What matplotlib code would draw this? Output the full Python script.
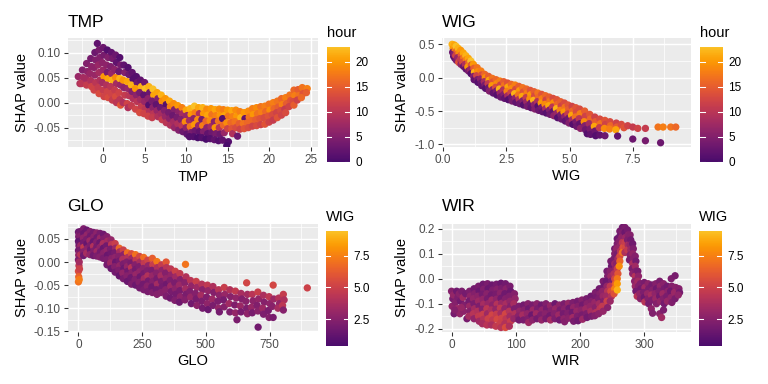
"""
SHAP dependence plots for TMP, WIG, GLO and WIR (ggplot-like layout).
"""

import numpy as np
import matplotlib.pyplot as plt
from matplotlib.colors import LinearSegmentedColormap

plt.rcParams['font.family'] = ['Liberation Sans', 'DejaVu Sans']

# ---------------------------------------------------------------- TMP panel
tmp_value = [
    -3.0, -2.8,
    -2.5, -2.4, -2.6,
    -2.0, -1.9, -2.1, -2.0,
    -1.5, -1.4, -1.6, -1.5, -1.4,
    -1.0, -0.9, -1.1, -1.0, -0.9, -1.1,
    -0.7, -0.5, -0.4, -0.6, -0.5, -0.4, -0.6, -0.5,
    0.0, 0.1, -0.1, 0.0, 0.1, -0.1, 0.0, 0.1,
    0.5, 0.6, 0.4, 0.5, 0.6, 0.4, 0.5, 0.6,
    1.0, 1.1, 0.9, 1.0, 1.1, 0.9, 1.0, 1.1,
    1.5, 1.6, 1.4, 1.5, 1.6, 1.4, 1.5, 1.6,
    2.0, 2.1, 1.9, 2.0, 2.1, 1.9, 2.0, 2.1,
    2.5, 2.6, 2.4, 2.5, 2.6, 2.4,
    3.0, 3.1, 2.9, 3.0, 3.1, 2.9, 3.0,
    3.5, 3.6, 3.4, 3.5, 3.6, 3.4,
    4.0, 4.1, 3.9, 4.0, 4.1, 3.9,
    4.5, 4.6, 4.4, 4.5, 4.6, 4.4,
    5.0, 5.1, 4.9, 5.0, 5.1, 4.9,
    5.5, 5.6, 5.4, 5.5, 5.6, 5.4,
    6.0, 6.1, 5.9, 6.0, 6.1, 5.9,
    6.5, 6.6, 6.4, 6.5, 6.6,
    7.0, 7.1, 6.9, 7.0, 7.1,
    7.5, 7.6, 7.4, 7.5, 7.6,
    8.0, 8.1, 7.9, 8.0, 8.1,
    8.5, 8.6, 8.4, 8.5, 8.6,
    9.0, 9.1, 8.9, 9.0, 9.1,
    9.5, 9.6, 9.4, 9.5, 9.6,
    10.0, 10.1, 9.9, 10.0, 10.1,
    10.5, 10.6, 10.4, 10.5, 10.6, 10.4,
    11.0, 11.1, 10.9, 11.0, 11.1, 10.9,
    11.5, 11.6, 11.4, 11.5, 11.6, 11.4,
    12.0, 12.1, 11.9, 12.0, 12.1, 11.9,
    12.5, 12.6, 12.4, 12.5, 12.6, 12.4,
    13.0, 13.1, 12.9, 13.0, 13.1, 12.9,
    13.5, 13.6, 13.4, 13.5, 13.6, 13.4,
    14.0, 14.1, 13.9, 14.0, 14.1, 13.9,
    14.5, 14.6, 14.4, 14.5, 14.6, 14.4,
    15.0, 15.1, 14.9, 15.0, 15.1, 14.9,
    15.5, 15.6, 15.4, 15.5, 15.6,
    16.0, 16.1, 15.9, 16.0, 16.2,
    16.5, 16.6, 16.4, 16.5,
    17.0, 17.1, 16.9, 17.0,
    17.5, 17.6, 17.4, 17.5,
    18.0, 18.1, 17.9, 18.0,
    18.5, 18.6, 18.4, 18.5,
    19.0, 19.1, 18.9, 19.0,
    19.5, 19.6, 19.4, 19.5,
    20.0, 20.1, 19.9, 20.0,
    20.5, 20.6, 20.4, 20.5,
    21.0, 21.1, 20.9, 21.0,
    21.5, 21.6, 21.4, 21.5,
    22.0, 22.1, 21.9, 22.0,
    22.5, 22.6, 22.4,
    23.0, 23.1, 22.9, 23.0,
    23.5, 23.6, 23.4,
    24.0, 24.1, 23.9,
    24.6, 24.5,
]
tmp_shap = [
    0.052, 0.038,
    0.065, 0.05, 0.038,
    0.078, 0.062, 0.048, 0.035,
    0.088, 0.072, 0.058, 0.044, 0.032,
    0.1, 0.085, 0.07, 0.055, 0.04, 0.025,
    0.118, 0.105, 0.09, 0.075, 0.06, 0.045, 0.03, 0.018,
    0.11, 0.095, 0.08, 0.065, 0.052, 0.04, 0.025, 0.012,
    0.105, 0.09, 0.075, 0.06, 0.048, 0.035, 0.022, 0.01,
    0.1, 0.088, 0.072, 0.058, 0.045, 0.032, 0.018, 0.005,
    0.095, 0.08, 0.066, 0.05, 0.038, 0.025, 0.012, 0.0,
    0.09, 0.075, 0.062, 0.048, 0.035, 0.02, 0.006, -0.005,
    0.075, 0.06, 0.045, 0.03, 0.015, 0.0,
    0.07, 0.056, 0.042, 0.028, 0.014, -0.002, -0.01,
    0.06, 0.047, 0.035, 0.022, 0.008, -0.006,
    0.052, 0.04, 0.028, 0.015, 0.002, -0.013,
    0.045, 0.032, 0.02, 0.006, -0.008, -0.02,
    0.04, 0.028, 0.015, 0.002, -0.012, -0.022,
    0.032, 0.02, 0.008, -0.005, -0.018, -0.027,
    0.027, 0.015, 0.003, -0.01, -0.022, -0.03,
    0.02, 0.008, -0.004, -0.016, -0.028,
    0.015, 0.003, -0.01, -0.022, -0.034,
    0.008, -0.004, -0.016, -0.028, -0.04,
    0.003, -0.008, -0.02, -0.032, -0.045,
    -0.002, -0.014, -0.026, -0.038, -0.05,
    -0.006, -0.018, -0.03, -0.042, -0.055,
    -0.01, -0.022, -0.034, -0.046, -0.058,
    -0.015, -0.026, -0.038, -0.05, -0.063,
    -0.012, -0.024, -0.036, -0.048, -0.06, -0.068,
    -0.007, -0.02, -0.032, -0.044, -0.056, -0.068,
    -0.01, -0.022, -0.034, -0.046, -0.058, -0.07,
    -0.01, -0.022, -0.034, -0.046, -0.058, -0.07,
    -0.013, -0.025, -0.037, -0.05, -0.062, -0.073,
    -0.012, -0.024, -0.036, -0.048, -0.06, -0.072,
    -0.014, -0.026, -0.038, -0.05, -0.062, -0.074,
    -0.013, -0.025, -0.037, -0.05, -0.063, -0.076,
    -0.014, -0.026, -0.032, -0.045, -0.06, -0.075,
    -0.015, -0.027, -0.04, -0.052, -0.078, -0.086,
    -0.016, -0.028, -0.04, -0.052, -0.062,
    -0.015, -0.027, -0.038, -0.05, -0.067,
    -0.018, -0.03, -0.042, -0.053,
    -0.02, -0.032, -0.042, -0.052,
    -0.017, -0.029, -0.04, -0.05,
    -0.012, -0.024, -0.036, -0.047,
    -0.01, -0.022, -0.034, -0.046,
    -0.008, -0.02, -0.032, -0.044,
    -0.007, -0.018, -0.03, -0.043,
    -0.003, -0.015, -0.027, -0.039,
    0.0, -0.012, -0.024, -0.035,
    0.003, -0.009, -0.02, -0.03,
    0.008, -0.004, -0.016, -0.025,
    0.01, -0.002, -0.013, -0.02,
    0.015, 0.004, -0.008,
    0.025, 0.014, 0.002, -0.005,
    0.026, 0.014, 0.005,
    0.03, 0.018, 0.01,
    0.028, 0.02,
]
tmp_hour = [
    7, 9,
    5, 8, 10,
    5, 6, 8, 11,
    4, 6, 7, 9, 12,
    3, 5, 6, 7, 10, 12,
    2, 4, 5, 7, 8, 9, 11, 13,
    3, 4, 6, 7, 20, 8, 11, 12,
    1, 5, 6, 4, 21, 9, 12, 13,
    2, 4, 5, 7, 22, 10, 12, 11,
    3, 2, 6, 19, 8, 11, 13, 10,
    1, 4, 3, 22, 7, 12, 10, 14,
    2, 5, 20, 6, 11, 9,
    1, 3, 21, 7, 10, 12, 9,
    2, 1, 22, 5, 9, 11,
    1, 3, 20, 6, 10, 12,
    2, 22, 4, 8, 11, 13,
    3, 23, 2, 7, 10, 12,
    22, 3, 6, 1, 9, 12,
    23, 21, 4, 6, 10, 11,
    21, 5, 2, 7, 9,
    22, 19, 3, 8, 11,
    20, 1, 5, 7, 10,
    21, 18, 4, 6, 9,
    19, 5, 3, 8, 7,
    20, 6, 4, 9, 5,
    18, 8, 5, 10, 3,
    21, 7, 19, 6, 2,
    22, 20, 8, 17, 4, 1,
    23, 18, 6, 20, 3, 1,
    21, 9, 19, 7, 2, 0,
    22, 20, 4, 18, 5, 1,
    19, 21, 16, 6, 2, 0,
    20, 17, 19, 8, 3, 1,
    21, 18, 6, 20, 4, 2,
    19, 20, 17, 10, 3, 1,
    18, 21, 1, 16, 7, 2,
    20, 17, 19, 12, 1, 0,
    21, 18, 16, 14, 9,
    19, 20, 17, 13, 3,
    18, 22, 15, 12,
    20, 2, 17, 14,
    19, 17, 16, 13,
    18, 20, 16, 12,
    19, 17, 15, 13,
    17, 18, 14, 12,
    18, 16, 13, 14,
    17, 19, 14, 12,
    18, 16, 13, 11,
    17, 15, 12, 14,
    16, 18, 13, 12,
    18, 15, 11, 13,
    17, 14, 12,
    16, 18, 13, 15,
    15, 17, 12,
    17, 14, 16,
    18, 15,
]

# ---------------------------------------------------------------- WIG panel
wig_value = [
    0.36, 0.40, 0.38, 0.42,
    0.45, 0.48, 0.44, 0.47,
    0.52, 0.55, 0.50, 0.53,
    0.60, 0.63, 0.58, 0.62,
    0.70, 0.72, 0.68, 0.71,
    0.80, 0.82, 0.78, 0.81,
    0.90, 0.92, 0.88, 0.91,
    1.00, 1.02, 0.98, 1.01,
    1.10, 1.12, 1.08, 1.11,
    1.20, 1.22, 1.24, 1.21, 1.23,
    1.35, 1.37, 1.33, 1.36, 1.38,
    1.50, 1.52, 1.48, 1.51, 1.53,
    1.65, 1.67, 1.63, 1.66, 1.68,
    1.80, 1.82, 1.78, 1.81, 1.83,
    1.95, 1.97, 1.93, 1.96, 1.98,
    2.10, 2.12, 2.08, 2.11, 2.13,
    2.25, 2.27, 2.23, 2.26, 2.28,
    2.40, 2.42, 2.38, 2.41, 2.43,
    2.55, 2.57, 2.53, 2.56, 2.58,
    2.70, 2.72, 2.68, 2.71, 2.73,
    2.85, 2.87, 2.83, 2.86, 2.88,
    3.00, 3.02, 2.98, 3.01, 3.03,
    3.15, 3.17, 3.13, 3.16, 3.18,
    3.30, 3.32, 3.28, 3.31, 3.33,
    3.45, 3.47, 3.43, 3.46, 3.48,
    3.60, 3.62, 3.58, 3.61, 3.63,
    3.75, 3.77, 3.73, 3.76, 3.78,
    3.90, 3.92, 3.88, 3.91, 3.93,
    4.05, 4.07, 4.03, 4.06, 4.08,
    4.20, 4.22, 4.18, 4.21, 4.23,
    4.35, 4.37, 4.33, 4.36, 4.38,
    4.50, 4.52, 4.48, 4.51, 4.53,
    4.65, 4.67, 4.63, 4.66, 4.68,
    4.80, 4.82, 4.78, 4.81, 4.83,
    4.95, 4.97, 4.93, 4.96, 4.98,
    5.10, 5.12, 5.08, 5.11, 5.13,
    5.25, 5.27, 5.23, 5.26, 5.28,
    5.40, 5.42, 5.38, 5.41, 5.43,
    5.60, 5.62, 5.58, 5.61, 5.63, 5.70,
    5.80, 5.82, 5.78, 5.81, 5.83,
    6.00, 6.02, 5.98, 6.01, 6.03,
    6.20, 6.22, 6.18, 6.20,
    6.40, 6.42, 6.38, 6.40,
    6.60, 6.62, 6.58,
    6.85, 6.87, 6.83, 6.90,
    7.05, 7.15,
    7.30,
    7.50, 7.50,
    7.70,
    8.00, 8.00,
    8.50, 8.60,
    8.70, 9.00, 9.20,
]
wig_shap = [
    0.5, 0.44, 0.38, 0.32,
    0.49, 0.42, 0.35, 0.29,
    0.47, 0.4, 0.33, 0.26,
    0.44, 0.37, 0.3, 0.23,
    0.41, 0.34, 0.27, 0.2,
    0.37, 0.3, 0.23, 0.17,
    0.33, 0.27, 0.2, 0.13,
    0.29, 0.23, 0.16, 0.1,
    0.25, 0.19, 0.12, 0.06,
    0.2, 0.14, 0.08, 0.02, -0.03,
    0.15, 0.09, 0.03, -0.03, -0.07,
    0.1, 0.04, -0.02, -0.08, -0.12,
    0.05, 0.0, -0.06, -0.11, -0.16,
    0.02, -0.04, -0.09, -0.15, -0.2,
    -0.01, -0.065, -0.12, -0.18, -0.23,
    -0.03, -0.09, -0.145, -0.2, -0.26,
    -0.05, -0.11, -0.17, -0.23, -0.29,
    -0.06, -0.12, -0.185, -0.25, -0.31,
    -0.08, -0.14, -0.205, -0.27, -0.33,
    -0.1, -0.16, -0.225, -0.29, -0.35,
    -0.11, -0.175, -0.24, -0.305, -0.37,
    -0.13, -0.195, -0.26, -0.325, -0.39,
    -0.15, -0.215, -0.28, -0.345, -0.41,
    -0.17, -0.235, -0.3, -0.365, -0.43,
    -0.19, -0.255, -0.32, -0.385, -0.45,
    -0.21, -0.275, -0.34, -0.405, -0.47,
    -0.23, -0.295, -0.36, -0.425, -0.49,
    -0.25, -0.315, -0.38, -0.445, -0.51,
    -0.27, -0.335, -0.4, -0.465, -0.53,
    -0.29, -0.355, -0.42, -0.485, -0.55,
    -0.31, -0.375, -0.44, -0.505, -0.57,
    -0.33, -0.4, -0.465, -0.53, -0.6,
    -0.36, -0.425, -0.49, -0.555, -0.62,
    -0.38, -0.445, -0.515, -0.58, -0.65,
    -0.41, -0.475, -0.545, -0.61, -0.68,
    -0.43, -0.5, -0.565, -0.63, -0.7,
    -0.45, -0.52, -0.59, -0.66, -0.73,
    -0.47, -0.54, -0.615, -0.69, -0.76,
    -0.5, -0.58, -0.66, -0.72, -0.78, -0.84,
    -0.55, -0.62, -0.69, -0.77, -0.85,
    -0.59, -0.66, -0.73, -0.8, -0.87,
    -0.62, -0.69, -0.75, -0.86,
    -0.64, -0.7, -0.76, -0.87,
    -0.66, -0.72, -0.77,
    -0.68, -0.74, -0.78, -0.875,
    -0.7, -0.75,
    -0.72,
    -0.74, -0.92,
    -0.76,
    -0.76, -0.945,
    -0.74, -0.975,
    -0.74, -0.74, -0.74,
]
wig_hour = [
    22, 20, 3, 1,
    21, 18, 5, 2,
    23, 16, 12, 4,
    22, 19, 7, 14,
    20, 15, 11, 6,
    21, 17, 13, 3,
    22, 18, 9, 2,
    21, 16, 20, 4,
    23, 14, 7, 1,
    20, 15, 22, 5, 2,
    17, 19, 12, 4, 1,
    18, 13, 6, 3, 2,
    16, 19, 8, 4, 1,
    15, 21, 11, 3, 5,
    17, 14, 20, 6, 2,
    16, 19, 13, 4, 1,
    18, 12, 22, 7, 3,
    15, 17, 9, 5, 2,
    14, 21, 18, 8, 1,
    16, 19, 12, 3, 4,
    18, 13, 22, 6, 2,
    15, 20, 17, 9, 3,
    17, 14, 21, 5, 1,
    16, 18, 11, 7, 4,
    14, 20, 19, 3, 2,
    15, 13, 22, 6, 5,
    17, 16, 9, 1, 3,
    14, 18, 20, 4, 2,
    16, 12, 19, 8, 1,
    15, 17, 21, 5, 3,
    13, 19, 10, 2, 6,
    14, 16, 22, 7, 1,
    15, 12, 18, 4, 3,
    13, 17, 20, 6, 2,
    14, 15, 11, 3, 5,
    12, 16, 21, 8, 1,
    14, 13, 17, 4, 3,
    13, 18, 10, 2, 6,
    15, 12, 19, 5, 3, 1,
    14, 16, 8, 4, 2,
    12, 15, 21, 3, 1,
    13, 17, 11, 2,
    14, 12, 19, 3,
    13, 16, 18,
    12, 15, 21, 2,
    13, 14,
    12,
    11, 3,
    12,
    11, 4,
    17, 3,
    18, 17, 16,
]

# ---------------------------------------------------------------- GLO panel
glo_value = [
    0, 1, 0, 2, 0, 1, 0, 2, 0, 1, 0,
    3, 3, 4, 3, 4, 3,
    8, 9, 8, 9, 8, 9,
    20, 21, 19, 20, 21, 19, 20,
    33, 34, 32, 33, 34, 32,
    46, 47, 45, 46, 47, 45,
    59, 60, 58, 59, 60, 58,
    72, 73, 71, 72, 73, 71,
    85, 86, 84, 85, 86, 84,
    98, 99, 97, 98, 99, 97,
    112, 114, 110, 112, 114, 110, 112,
    128, 130, 126, 128, 130, 126, 128,
    144, 146, 142, 144, 146, 142, 144,
    160, 162, 158, 160, 162, 158, 160,
    176, 178, 174, 176, 178, 174, 176,
    192, 194, 190, 192, 194, 190, 192,
    208, 210, 206, 208, 210, 206, 208,
    224, 226, 222, 224, 226, 222, 224,
    240, 242, 238, 240, 242, 238, 240,
    256, 258, 254, 256, 258, 254, 256,
    272, 274, 270, 272, 274, 270, 272,
    290, 292, 288, 290, 292, 288, 290,
    308, 310, 306, 308, 310, 306, 308,
    326, 328, 324, 326, 328, 324,
    344, 346, 342, 344, 346, 342, 344,
    362, 364, 360, 362, 364, 360,
    380, 382, 378, 380, 382, 378,
    398, 400, 396, 398, 400, 396,
    420, 422, 418, 420, 422, 418,
    440, 443, 437, 440, 443,
    462, 465, 459, 462, 465,
    484, 487, 481, 484, 487,
    506, 509, 503, 506, 509,
    528, 531, 525, 528,
    550, 553, 547, 550, 553,
    572, 575, 569, 572,
    594, 597, 591, 594,
    616, 619, 613, 616, 622,
    638, 641, 635, 638,
    660, 663, 657, 660, 663,
    682, 685, 679, 682,
    704, 707, 701, 704, 705,
    726, 729, 723, 726,
    748, 751, 745, 748,
    764, 767, 761, 764,
    786, 789, 783,
    804, 807, 801, 804,
    898,
]
glo_shap = [
    0.065, 0.055, 0.045, 0.035, 0.025, 0.015, 0.005, -0.008, -0.02, -0.032, -0.043,
    0.06, 0.04, 0.02, 0.0, -0.015, -0.038,
    0.066, 0.056, 0.046, 0.036, 0.026, 0.016,
    0.072, 0.062, 0.052, 0.042, 0.032, 0.022, 0.014,
    0.069, 0.059, 0.049, 0.039, 0.029, 0.019,
    0.066, 0.056, 0.046, 0.036, 0.026, 0.016,
    0.064, 0.054, 0.044, 0.034, 0.024, 0.014,
    0.063, 0.053, 0.043, 0.033, 0.023, 0.013,
    0.062, 0.052, 0.042, 0.032, 0.022, 0.011,
    0.06, 0.05, 0.04, 0.03, 0.02, 0.008,
    0.055, 0.045, 0.035, 0.025, 0.015, 0.005, -0.006,
    0.048, 0.038, 0.028, 0.018, 0.008, -0.002, -0.014,
    0.04, 0.03, 0.02, 0.01, 0.0, -0.01, -0.022,
    0.03, 0.022, 0.012, 0.002, -0.008, -0.018, -0.03,
    0.026, 0.016, 0.006, -0.004, -0.014, -0.024, -0.036,
    0.02, 0.01, 0.0, -0.01, -0.02, -0.03, -0.042,
    0.018, 0.008, -0.002, -0.012, -0.022, -0.034, -0.048,
    0.016, 0.004, -0.006, -0.016, -0.027, -0.038, -0.05,
    0.012, 0.0, -0.01, -0.021, -0.032, -0.044, -0.056,
    0.01, -0.003, -0.014, -0.025, -0.036, -0.048, -0.06,
    0.004, -0.008, -0.019, -0.03, -0.041, -0.052, -0.064,
    0.008, -0.006, -0.018, -0.03, -0.042, -0.054, -0.066,
    0.001, -0.012, -0.024, -0.036, -0.048, -0.06, -0.07,
    -0.006, -0.018, -0.03, -0.042, -0.054, -0.066,
    0.0, -0.012, -0.024, -0.036, -0.048, -0.06, -0.074,
    -0.015, -0.028, -0.04, -0.052, -0.064, -0.078,
    -0.02, -0.032, -0.045, -0.058, -0.07, -0.083,
    -0.025, -0.038, -0.05, -0.062, -0.075, -0.087,
    -0.005, -0.032, -0.045, -0.058, -0.07, -0.082,
    -0.04, -0.052, -0.064, -0.076, -0.09,
    -0.042, -0.055, -0.068, -0.08, -0.094,
    -0.048, -0.06, -0.072, -0.085, -0.1,
    -0.05, -0.062, -0.076, -0.09, -0.103,
    -0.053, -0.066, -0.08, -0.094,
    -0.06, -0.072, -0.085, -0.1, -0.108,
    -0.055, -0.07, -0.082, -0.097,
    -0.06, -0.075, -0.09, -0.108,
    -0.063, -0.078, -0.093, -0.11, -0.125,
    -0.068, -0.08, -0.095, -0.108,
    -0.045, -0.07, -0.085, -0.1, -0.112,
    -0.07, -0.084, -0.098, -0.11,
    -0.065, -0.08, -0.094, -0.106, -0.141,
    -0.072, -0.087, -0.1, -0.113,
    -0.075, -0.09, -0.105, -0.12,
    -0.05, -0.08, -0.096, -0.12,
    -0.078, -0.09, -0.1,
    -0.07, -0.082, -0.094, -0.104,
    -0.056,
]
glo_wig = [
    1.5, 2.0, 1.2, 2.5, 1.8, 3.0, 2.2, 4.5, 5.5, 6.5, 7.0,
    2.3, 1.6, 2.8, 3.5, 5.0, 7.3,
    1.8, 2.4, 1.3, 3.2, 2.0, 4.2,
    2.2, 1.5, 2.8, 1.9, 4.6, 2.6, 1.7,
    1.6, 3.0, 2.1, 1.4, 2.7, 3.6,
    2.5, 1.8, 3.3, 2.2, 1.6, 2.9,
    1.9, 2.6, 1.5, 4.0, 2.3, 1.8,
    2.7, 1.7, 2.4, 2.0, 3.4, 2.2,
    2.0, 3.1, 1.6, 2.8, 1.9, 2.5,
    1.7, 2.3, 3.8, 1.5, 2.6, 2.1,
    2.4, 3.5, 1.8, 2.9, 1.5, 2.2, 1.9,
    3.0, 4.4, 2.1, 1.7, 2.6, 3.3, 1.6,
    4.8, 3.2, 2.0, 2.8, 1.5, 2.4, 1.8,
    6.6, 3.6, 2.5, 1.9, 3.0, 2.2, 1.4,
    5.0, 2.7, 3.9, 2.1, 1.6, 2.9, 2.0,
    6.9, 4.1, 2.3, 3.0, 1.8, 2.5, 1.5,
    5.6, 3.3, 2.0, 4.3, 2.6, 1.7, 2.2,
    7.0, 4.5, 2.4, 1.9, 3.1, 2.3, 1.6,
    5.3, 3.7, 2.2, 2.9, 1.7, 2.4, 1.9,
    6.8, 4.6, 2.7, 2.0, 3.4, 1.8, 2.1,
    5.1, 3.0, 2.3, 4.0, 1.9, 2.6, 2.0,
    6.3, 4.8, 2.2, 3.1, 2.5, 1.7, 2.3,
    7.2, 3.9, 2.6, 2.0, 3.5, 1.8, 2.4,
    4.7, 2.8, 3.6, 2.1, 1.9, 2.5,
    6.0, 4.2, 2.4, 3.0, 1.7, 2.6, 2.2,
    4.4, 2.9, 2.2, 3.3, 2.0, 1.8,
    5.0, 3.4, 2.1, 2.7, 1.9, 2.3,
    4.6, 2.5, 3.2, 2.0, 2.8, 1.7,
    7.1, 4.0, 2.6, 3.5, 2.1, 2.4,
    4.3, 2.9, 2.3, 3.1, 1.8,
    4.9, 3.3, 2.4, 2.0, 2.7,
    4.1, 2.6, 3.6, 2.2, 1.9,
    4.5, 3.0, 2.3, 2.8, 1.6,
    3.9, 2.4, 3.3, 2.1,
    4.2, 2.7, 2.2, 3.0, 1.9,
    4.8, 3.1, 2.0, 2.5,
    4.0, 2.6, 3.4, 2.2,
    4.6, 2.9, 2.3, 3.0, 2.1,
    3.7, 2.4, 3.2, 2.0,
    5.2, 3.5, 2.6, 2.2, 2.8,
    4.3, 2.7, 3.1, 2.0,
    4.9, 3.0, 2.3, 2.6, 1.8,
    3.8, 2.5, 3.3, 2.2,
    4.4, 2.8, 2.1, 2.4,
    5.3, 3.2, 2.6, 2.0,
    4.1, 2.9, 3.6,
    4.7, 3.9, 4.4, 2.5,
    5.0,
]

# ---------------------------------------------------------------- WIR panel
wir_value = [
    0, 2, 1, 4, 3, 6, 8, 10, 9, 12, 14, 13, 16, 18, 20, 19, 22, 24, 5, 15,
    28, 29, 27, 28, 29, 27,
    35, 36, 34, 35, 36, 34, 35,
    42, 43, 41, 42, 43, 41, 42, 43,
    49, 50, 48, 49, 50, 48, 49, 50, 48,
    56, 57, 55, 56, 57, 55, 56, 57, 55,
    63, 64, 62, 63, 64, 62, 63, 64, 62,
    70, 71, 69, 70, 71, 69, 70, 71, 69,
    77, 78, 76, 77, 78, 76, 77, 78, 76, 77,
    84, 85, 83, 84, 85, 83, 84, 85, 83, 84,
    91, 92, 90, 91, 92, 90, 91, 92, 90,
    98, 99, 97, 98, 99, 97,
    105, 106, 104, 105,
    112, 113, 111, 112,
    119, 120, 118, 119, 120,
    126, 127, 125, 126,
    133, 134, 132, 133,
    140, 141, 139, 140,
    147, 148, 146, 147,
    154, 155, 153, 154,
    161, 162, 160, 161,
    168, 169, 167, 168,
    175, 176, 174, 175, 176,
    182, 183, 181, 182,
    189, 190, 188, 189, 190,
    196, 197, 195, 196, 197,
    203, 204, 202, 203, 204,
    210, 211, 209, 210, 211,
    217, 218, 216, 217, 218,
    224, 225, 223, 224, 225, 223,
    230, 231, 229, 230, 231, 229,
    236, 237, 235, 236, 237, 235, 236,
    242, 243, 241, 242, 243, 241, 242, 243,
    248, 249, 247, 248, 249, 247, 248, 249, 247,
    254, 254, 253, 254, 255, 253, 254, 255, 254, 253,
    258, 258, 257, 258, 259, 257, 258, 259, 258, 258, 258,
    262, 262, 261, 262, 263, 262, 262, 261,
    266, 266, 265, 266, 267, 266,
    270, 270, 271, 270, 271, 270,
    274, 275, 274, 275, 274,
    278, 279, 278, 279, 278, 277,
    282, 283, 282, 283, 282, 281, 282,
    286, 287, 286, 287, 286, 285, 286, 287,
    290, 291, 290, 291, 290, 289,
    294, 295, 293, 294,
    300, 301, 299, 300, 301,
    306, 307, 305, 306, 307,
    312, 313, 311, 312, 311, 313,
    318, 319, 317, 318, 319,
    324, 325, 323, 324, 325, 324, 327,
    330, 331, 329, 330, 331, 330,
    336, 337, 335, 336,
    342, 343, 341, 342, 343,
    348, 349, 347, 348,
    354, 355, 353,
]
wir_shap = [
    -0.05, -0.08, -0.11, -0.14, -0.065, -0.095, -0.05, -0.075, -0.12, -0.06,
    -0.09, -0.14, -0.05, -0.075, -0.105, -0.13, -0.06, -0.16, -0.125, -0.115,
    -0.05, -0.07, -0.09, -0.11, -0.13, -0.15,
    -0.04, -0.06, -0.08, -0.1, -0.12, -0.14, -0.16,
    -0.03, -0.05, -0.07, -0.09, -0.11, -0.13, -0.15, -0.17,
    -0.022, -0.042, -0.062, -0.082, -0.102, -0.122, -0.142, -0.162, -0.18,
    -0.02, -0.04, -0.06, -0.08, -0.1, -0.12, -0.14, -0.16, -0.185,
    -0.025, -0.045, -0.065, -0.085, -0.105, -0.125, -0.145, -0.165, -0.185,
    -0.022, -0.042, -0.062, -0.082, -0.102, -0.122, -0.142, -0.162, -0.19,
    -0.018, -0.038, -0.058, -0.078, -0.098, -0.118, -0.138, -0.158, -0.178, -0.195,
    -0.02, -0.04, -0.06, -0.08, -0.1, -0.12, -0.14, -0.16, -0.18, -0.195,
    -0.03, -0.05, -0.07, -0.09, -0.11, -0.13, -0.15, -0.17, -0.19,
    -0.06, -0.08, -0.1, -0.12, -0.14, -0.16,
    -0.11, -0.13, -0.15, -0.165,
    -0.105, -0.125, -0.145, -0.165,
    -0.1, -0.12, -0.14, -0.16, -0.175,
    -0.105, -0.125, -0.145, -0.165,
    -0.1, -0.12, -0.14, -0.16,
    -0.105, -0.125, -0.145, -0.165,
    -0.1, -0.12, -0.14, -0.16,
    -0.108, -0.128, -0.148, -0.165,
    -0.1, -0.12, -0.14, -0.16,
    -0.105, -0.125, -0.145, -0.165,
    -0.1, -0.12, -0.14, -0.16, -0.172,
    -0.098, -0.118, -0.138, -0.158,
    -0.095, -0.115, -0.135, -0.155, -0.17,
    -0.09, -0.11, -0.13, -0.15, -0.168,
    -0.085, -0.105, -0.125, -0.145, -0.162,
    -0.08, -0.1, -0.12, -0.14, -0.155,
    -0.07, -0.09, -0.11, -0.13, -0.15,
    -0.055, -0.075, -0.095, -0.115, -0.135, -0.148,
    -0.04, -0.06, -0.08, -0.1, -0.12, -0.14,
    -0.01, -0.03, -0.05, -0.07, -0.09, -0.11, -0.13,
    0.03, 0.01, -0.01, -0.03, -0.05, -0.07, -0.09, -0.115,
    0.07, 0.05, 0.03, 0.01, -0.01, -0.03, -0.05, -0.07, -0.09,
    0.12, 0.1, 0.08, 0.06, 0.04, 0.02, 0.0, -0.02, -0.04, -0.06,
    0.16, 0.14, 0.12, 0.1, 0.08, 0.06, 0.04, 0.02, 0.0, -0.02, -0.045,
    0.19, 0.17, 0.15, 0.13, 0.11, 0.09, 0.07, 0.05,
    0.205, 0.185, 0.165, 0.145, 0.125, 0.105,
    0.205, 0.185, 0.165, 0.145, 0.125, 0.105,
    0.195, 0.175, 0.155, 0.135, 0.115,
    0.175, 0.155, 0.135, 0.115, 0.095, 0.075,
    0.14, 0.12, 0.1, 0.08, 0.06, 0.04, 0.02,
    0.09, 0.07, 0.05, 0.03, 0.01, -0.01, -0.03, -0.05,
    0.03, 0.01, -0.01, -0.03, -0.05, -0.07,
    -0.02, -0.04, -0.06, -0.08,
    -0.015, -0.035, -0.055, -0.075, -0.093,
    -0.02, -0.04, -0.06, -0.08, -0.1,
    -0.025, -0.045, -0.065, -0.085, -0.12, -0.138,
    -0.02, -0.04, -0.06, -0.08, -0.1,
    -0.01, -0.03, -0.05, -0.07, -0.09, -0.14, -0.155,
    -0.02, -0.04, -0.06, -0.08, -0.1, -0.125,
    -0.03, -0.05, -0.07, -0.09,
    0.0, -0.03, -0.05, -0.075, -0.095,
    0.012, -0.035, -0.055, -0.08,
    -0.04, -0.055, -0.065,
]
wir_wig = [
    2.4, 2.0, 2.8, 1.9, 3.0, 2.5, 1.7, 2.2, 3.3, 2.6,
    1.8, 2.9, 2.1, 3.4, 2.3, 2.7, 1.9, 2.0, 2.4, 3.1,
    2.2, 2.8, 1.9, 3.2, 2.5, 3.6,
    1.8, 2.4, 3.0, 2.1, 3.5, 4.2, 2.9,
    2.0, 1.6, 2.7, 3.3, 2.2, 4.0, 4.6, 3.4,
    1.7, 2.3, 1.9, 2.9, 3.6, 2.5, 4.8, 4.1, 3.7,
    2.1, 1.5, 2.6, 2.0, 3.1, 4.4, 3.3, 5.0, 4.3,
    1.6, 2.2, 1.8, 3.4, 2.7, 3.9, 5.2, 4.5, 3.8,
    1.9, 2.5, 2.0, 2.8, 4.1, 3.0, 4.7, 5.4, 4.6,
    1.5, 2.1, 2.7, 1.8, 3.2, 4.5, 3.6, 5.1, 4.9, 4.2,
    1.8, 2.6, 1.7, 2.4, 3.7, 2.9, 5.3, 4.4, 4.0, 5.5,
    2.0, 1.6, 2.3, 3.0, 2.5, 4.2, 3.5, 4.8, 3.9,
    2.4, 2.9, 3.6, 2.2, 4.0, 3.1,
    2.2, 3.0, 2.6, 1.9,
    1.8, 2.5, 3.6, 2.1,
    2.4, 1.7, 2.9, 2.3, 3.3,
    2.0, 3.2, 1.6, 2.7,
    2.6, 2.1, 3.4, 1.9,
    1.7, 2.8, 2.2, 3.0,
    2.3, 1.9, 2.6, 2.0,
    2.9, 2.4, 1.8, 3.5,
    1.6, 3.1, 2.5, 2.2,
    2.7, 2.0, 3.3, 1.8,
    2.1, 2.6, 1.9, 2.8, 2.4,
    3.0, 1.7, 2.3, 2.6,
    2.2, 2.9, 1.8, 3.4, 2.0,
    1.9, 2.4, 3.1, 2.2, 1.7,
    2.5, 1.8, 2.7, 2.0, 3.2,
    2.0, 2.6, 3.3, 2.2, 1.8,
    1.7, 2.4, 2.9, 3.6, 2.1,
    2.2, 1.9, 3.1, 2.6, 4.0, 2.4,
    1.8, 2.5, 2.2, 3.5, 4.3, 2.7,
    2.1, 1.7, 2.8, 3.2, 2.4, 4.6, 3.0,
    1.9, 2.3, 1.6, 3.0, 4.2, 3.4, 5.0, 2.6,
    2.0, 1.7, 2.6, 3.3, 2.2, 4.5, 5.6, 4.0, 3.2,
    1.8, 2.4, 2.0, 3.1, 2.7, 4.0, 5.2, 6.3, 7.4, 5.8,
    1.6, 2.2, 2.9, 2.0, 3.4, 2.6, 4.7, 6.0, 7.2, 8.3, 9.0,
    2.0, 1.7, 2.5, 3.0, 4.1, 5.5, 6.6, 7.8,
    1.8, 2.3, 2.8, 4.4, 5.7, 6.9,
    2.1, 1.6, 3.2, 4.8, 5.4, 3.9,
    1.9, 2.6, 2.2, 3.6, 4.6,
    2.4, 1.8, 2.9, 3.3, 2.5, 2.0,
    1.7, 2.2, 3.0, 2.6, 3.8, 2.1, 2.8,
    2.5, 1.9, 3.4, 2.3, 4.1, 2.7, 3.2, 1.8,
    2.0, 2.8, 3.5, 2.4, 1.9, 4.3,
    2.3, 1.8, 3.0, 2.6,
    2.0, 3.4, 2.2, 1.7, 4.2,
    2.7, 2.1, 3.1, 2.4, 2.0,
    1.9, 2.5, 3.6, 2.2, 2.8, 2.3,
    2.4, 1.7, 2.8, 3.2, 2.5,
    2.1, 2.9, 2.3, 1.8, 3.0, 2.6, 3.4,
    2.6, 2.0, 3.3, 2.4, 1.9, 2.2,
    1.8, 2.7, 2.1, 3.1,
    2.2, 2.5, 1.7, 2.9, 2.3,
    2.0, 2.6, 3.2, 2.1,
    2.4, 1.9, 2.8,
]

# ---------------------------------------------------------------- layout
W, H = 768, 384
inferno = plt.get_cmap('inferno')
cmap = LinearSegmentedColormap.from_list('inferno_cut', inferno(np.linspace(0.22, 0.855, 256)))


def fx(px):
    return px / W


def fy(py):
    return 1 - py / H


def draw_panel(fig, box, cbox, x, y, c, clim, title, legend_title,
               xlim, ylim, xticks, xlabels, xminor, yticks, ylabels, yminor,
               cticks, clabels, ylab_x, title_base, xlab_base, ltitle_base):
    l, t, r, b = box
    ax = fig.add_axes([fx(l), fy(b), (r - l) / W, (b - t) / H])
    ax.set_facecolor('#EBEBEB')
    for s in ax.spines.values():
        s.set_visible(False)
    ax.set_xlim(*xlim)
    ax.set_ylim(*ylim)
    ax.set_xticks(xticks)
    ax.set_xticklabels(xlabels)
    ax.set_yticks(yticks)
    ax.set_yticklabels(ylabels)
    ax.set_xticks(xminor, minor=True)
    ax.set_yticks(yminor, minor=True)
    ax.grid(which='major', color='white', linewidth=1.1)
    ax.grid(which='minor', color='white', linewidth=0.55)
    ax.set_axisbelow(True)
    ax.tick_params(which='major', length=2.75, width=0.8, color='#333333',
                   labelsize=8.8, labelcolor='#4D4D4D', pad=2.2)
    ax.tick_params(which='minor', length=0)

    sc = ax.scatter(x, y, c=c, cmap=cmap, vmin=clim[0], vmax=clim[1],
                    s=30, linewidths=0, zorder=3)

    # colour bar
    cl, ct, cr, cb_ = cbox
    cax = fig.add_axes([fx(cl), fy(cb_), (cr - cl) / W, (cb_ - ct) / H])
    cb = fig.colorbar(sc, cax=cax)
    cb.outline.set_visible(False)
    cb.set_ticks(cticks)
    cb.set_ticklabels(clabels)
    cax.tick_params(length=0, labelsize=8.8, pad=4, labelcolor='black')
    for v in cticks:
        cax.axhline(v, xmin=0, xmax=0.2, color='white', linewidth=0.8)
        cax.axhline(v, xmin=0.8, xmax=1, color='white', linewidth=0.8)

    # texts
    fig.text(fx(l), fy(title_base), title, fontsize=13, ha='left', va='baseline')
    fig.text(fx((l + r) / 2), fy(xlab_base), title, fontsize=11, ha='center', va='baseline')
    fig.text(fx(ylab_x), fy((t + b) / 2), 'SHAP value', fontsize=11, rotation=90,
             ha='center', va='center')
    fig.text(fx(cl), fy(ltitle_base), legend_title, fontsize=11, ha='left', va='baseline')
    return ax


fig = plt.figure(figsize=(W / 96, H / 96), dpi=96)

draw_panel(fig, (67.5, 38, 318, 147), (326.7, 46.7, 350, 161.7),
           tmp_value, tmp_shap, tmp_hour, (0, 23), 'TMP', 'hour',
           (-4.3, 25.9), (-0.0886, 0.129),
           [0, 5, 10, 15, 20, 25], ['0', '5', '10', '15', '20', '25'],
           [-2.5, 2.5, 7.5, 12.5, 17.5, 22.5],
           [-0.05, 0.0, 0.05, 0.10], ['-0.05', '0.00', '0.05', '0.10'],
           [-0.075, -0.025, 0.025, 0.075, 0.125],
           [0, 5, 10, 15, 20], ['0', '5', '10', '15', '20'],
           22.2, 27.3, 180.7, 36.7)

draw_panel(fig, (441.5, 38, 690.7, 147), (700, 46.7, 723, 161.7),
           wig_value, wig_shap, wig_hour, (0, 23), 'WIG', 'hour',
           (-0.06, 9.79), (-1.039, 0.595),
           [0, 2.5, 5, 7.5], ['0.0', '2.5', '5.0', '7.5'],
           [1.25, 3.75, 6.25, 8.75],
           [-1.0, -0.5, 0.0, 0.5], ['-1.0', '-0.5', '0.0', '0.5'],
           [-0.75, -0.25, 0.25],
           [0, 5, 10, 15, 20], ['0', '5', '10', '15', '20'],
           401.8, 26.7, 180.3, 36.7)

draw_panel(fig, (67.5, 223.7, 318, 332), (325.7, 231.3, 348.3, 346),
           glo_value, glo_shap, glo_wig, (0.4, 9.4), 'GLO', 'WIG',
           (-43, 940), (-0.1515, 0.083),
           [0, 250, 500, 750], ['0', '250', '500', '750'],
           [125, 375, 625, 875],
           [-0.15, -0.10, -0.05, 0.0, 0.05], ['-0.15', '-0.10', '-0.05', '0.00', '0.05'],
           [-0.125, -0.075, -0.025, 0.025, 0.075],
           [2.5, 5.0, 7.5], ['2.5', '5.0', '7.5'],
           22.2, 211.3, 365, 221.3)

draw_panel(fig, (441.5, 223.7, 690.7, 332), (698.7, 231.3, 721.7, 346),
           wir_value, wir_shap, wir_wig, (0.4, 9.4), 'WIR', 'WIG',
           (-15.6, 372.3), (-0.213, 0.22),
           [0, 100, 200, 300], ['0', '100', '200', '300'],
           [50, 150, 250, 350],
           [-0.2, -0.1, 0.0, 0.1, 0.2], ['-0.2', '-0.1', '0.0', '0.1', '0.2'],
           [-0.15, -0.05, 0.05, 0.15],
           [2.5, 5.0, 7.5], ['2.5', '5.0', '7.5'],
           401.5, 211.3, 365, 221.3)

fig.savefig('out.png', dpi=96)
